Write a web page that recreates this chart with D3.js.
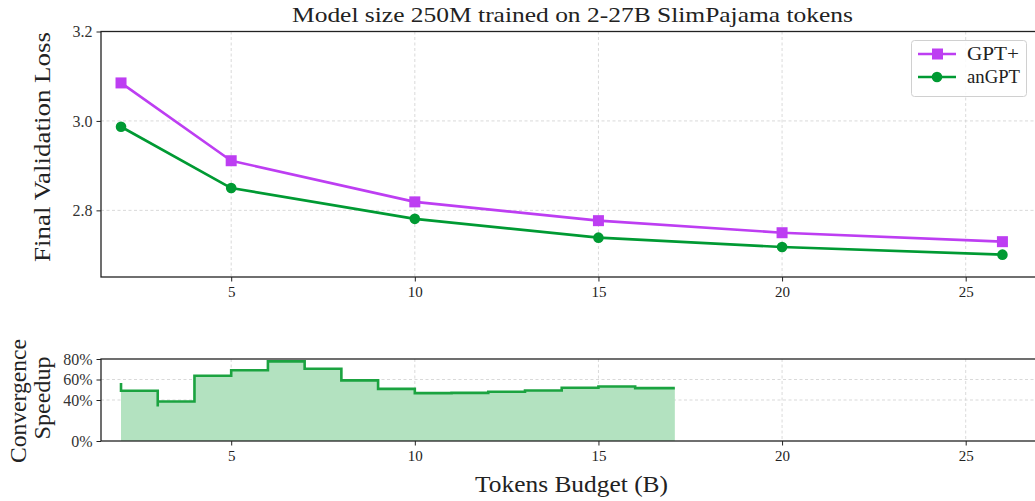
<!DOCTYPE html>
<html>
<head>
<meta charset="utf-8">
<script src="https://cdn.jsdelivr.net/npm/d3@7"></script>
<style>
  html, body { margin: 0; padding: 0; background: #fff; }
  svg { display: block; }
  text { font-family: "Liberation Serif", "DejaVu Serif", serif; fill: #222; }
</style>
</head>
<body>
<svg id="chart" width="1035" height="501"></svg>
<script>
// Token budgets (billions) and final validation loss per model
const tokenBudgets = [2, 5, 10, 15, 20, 26];
const lossGPTPlus = [3.085, 2.911, 2.819, 2.777, 2.750, 2.730];
const lossAnGPT   = [2.987, 2.850, 2.781, 2.739, 2.718, 2.701];

// Convergence speedup of anGPT over GPT+ (%), drawn as a step-after line
const speedupBudget = [2, 2, 3, 3, 4, 5, 6, 7, 8, 9, 10, 11, 12, 13, 14, 15, 16, 17.08];
const speedupPct    = [56.5, 49, 33.6, 38.5, 63.7, 69, 77.7, 70.5, 59.1, 50.9, 46.7, 47, 48, 49.3, 51.9, 53.2, 51.6, 51.6];

// Tick labels
const xTicks = [5, 10, 15, 20, 25];
const lossTicks = [2.8, 3.0, 3.2];
const speedupTicks = [0, 40, 60, 80];

const seriesNames = ["GPT+", "anGPT"];
const seriesColors = ["#bd3ef2", "#009a33"];

const SERIF = '"Liberation Serif", "DejaVu Serif", serif';
const svg = d3.select("#chart");

const left = 101, right = 1052;
const top1 = 31.5, bottom1 = 277;
const top2 = 359, bottom2 = 441;

const x = d3.scaleLinear().domain([1.455, 27.35]).range([left, right]);
const yLoss = d3.scaleLinear().domain([2.651, 3.2]).range([bottom1, top1]);
const ySpeed = d3.scaleLinear().domain([0, 80]).range([bottom2, top2]);

// Grid lines
function grid(g, yScale, yTickVals, y0, y1) {
  g.selectAll("line.gx").data(xTicks).join("line")
    .attr("x1", d => x(d)).attr("x2", d => x(d))
    .attr("y1", y0).attr("y2", y1)
    .attr("stroke", "#cfcfcf").attr("stroke-width", 0.8).attr("stroke-dasharray", "3,2.5");
  g.selectAll("line.gy").data(yTickVals).join("line")
    .attr("x1", left).attr("x2", right)
    .attr("y1", d => yScale(d)).attr("y2", d => yScale(d))
    .attr("stroke", "#cfcfcf").attr("stroke-width", 0.8).attr("stroke-dasharray", "3,2.5");
}
grid(svg.append("g"), yLoss, lossTicks, top1, bottom1);
grid(svg.append("g"), ySpeed, speedupTicks.filter(d => d > 0 && d < 80), top2, bottom2);

// Top panel: loss curves
const lineGen = d3.line().x((d, i) => x(tokenBudgets[i])).y(d => yLoss(d));
const series = [lossGPTPlus, lossAnGPT];
series.forEach((vals, k) => {
  svg.append("path").datum(vals)
    .attr("d", lineGen)
    .attr("fill", "none").attr("stroke", seriesColors[k]).attr("stroke-width", 2.6)
    .attr("stroke-linejoin", "round");
});
// markers
svg.append("g").selectAll("rect").data(lossGPTPlus).join("rect")
  .attr("x", (d, i) => x(tokenBudgets[i]) - 5.5).attr("y", d => yLoss(d) - 5.5)
  .attr("width", 11).attr("height", 11).attr("fill", seriesColors[0]);
svg.append("g").selectAll("circle").data(lossAnGPT).join("circle")
  .attr("cx", (d, i) => x(tokenBudgets[i])).attr("cy", d => yLoss(d))
  .attr("r", 5.3).attr("fill", seriesColors[1]);

// Bottom panel: speedup area + step line
const pts = speedupBudget.map((b, i) => [b, speedupPct[i]]);
const area = d3.area().curve(d3.curveStepAfter)
  .x(d => x(d[0])).y0(ySpeed(0)).y1(d => ySpeed(d[1]));
const step = d3.line().curve(d3.curveStepAfter)
  .x(d => x(d[0])).y(d => ySpeed(d[1]));
svg.append("path").datum(pts.slice(1)).attr("d", area).attr("fill", "#b3e2c0");
svg.append("path").datum(pts).attr("d", step)
  .attr("fill", "none").attr("stroke", "#1ba340").attr("stroke-width", 2.6);

// Axes
function axes(yScale, yTickVals, fmt, y0, y1) {
  svg.append("g").attr("transform", `translate(0,${y1})`)
    .call(d3.axisBottom(x).tickValues(xTicks).tickSize(4.5).tickPadding(5).tickFormat(d3.format("d")))
    .call(g => g.select(".domain").remove())
    .call(g => g.selectAll("line").attr("stroke", "#222").attr("stroke-width", 1))
    .call(g => g.selectAll("text").style("font-family", SERIF).style("font-size", "15px").style("fill", "#222"));
  svg.append("g").attr("transform", `translate(${left},0)`)
    .call(d3.axisLeft(yScale).tickValues(yTickVals).tickSize(4.5).tickPadding(4).tickFormat(fmt))
    .call(g => g.select(".domain").remove())
    .call(g => g.selectAll("line").attr("stroke", "#222").attr("stroke-width", 1))
    .call(g => g.selectAll("text").style("font-family", SERIF).style("font-size", "16px").style("fill", "#333"));
  // frame
  svg.append("rect").attr("x", left).attr("y", y0).attr("width", right - left).attr("height", y1 - y0)
    .attr("fill", "none").attr("stroke", "#222").attr("stroke-width", 1.3);
}
axes(yLoss, lossTicks, d3.format(".1f"), top1, bottom1);
axes(ySpeed, speedupTicks, d => d + "%", top2, bottom2);

// Titles and labels
function label(sel, size, len) {
  return sel.style("font-family", SERIF).style("font-size", size + "px")
    .attr("textLength", len).attr("lengthAdjust", "spacingAndGlyphs");
}
label(svg.append("text").attr("x", 572.5).attr("y", 22).attr("text-anchor", "middle"), 22, 561)
  .text("Model size 250M trained on 2-27B SlimPajama tokens");
label(svg.append("text").attr("transform", "translate(50,147) rotate(-90)").attr("text-anchor", "middle"), 24, 230)
  .text("Final Validation Loss");
label(svg.append("text").attr("transform", "translate(26,401) rotate(-90)").attr("text-anchor", "middle"), 24, 124)
  .text("Convergence");
label(svg.append("text").attr("transform", "translate(50,398) rotate(-90)").attr("text-anchor", "middle"), 24, 83)
  .text("Speedup");
label(svg.append("text").attr("x", 571.5).attr("y", 492).attr("text-anchor", "middle"), 24, 193)
  .text("Tokens Budget (B)");

// Legend
const lg = svg.append("g");
lg.append("rect").attr("x", 911.5).attr("y", 40.5).attr("width", 115).attr("height", 56).attr("rx", 3)
  .attr("fill", "#fff").attr("fill-opacity", 0.85).attr("stroke", "#d0d0d0").attr("stroke-width", 1);
seriesNames.forEach((name, k) => {
  const yy = 54 + k * 23;
  lg.append("line").attr("x1", 918).attr("x2", 956).attr("y1", yy).attr("y2", yy)
    .attr("stroke", seriesColors[k]).attr("stroke-width", 2.6);
  if (k === 0) {
    lg.append("rect").attr("x", 932).attr("y", yy - 5.5).attr("width", 11).attr("height", 11).attr("fill", seriesColors[k]);
  } else {
    lg.append("circle").attr("cx", 937).attr("cy", yy).attr("r", 5.3).attr("fill", seriesColors[k]);
  }
  label(lg.append("text").attr("x", 967).attr("y", yy + 6), 19, k === 0 ? 52 : 53).text(name);
});
</script>
</body>
</html>
